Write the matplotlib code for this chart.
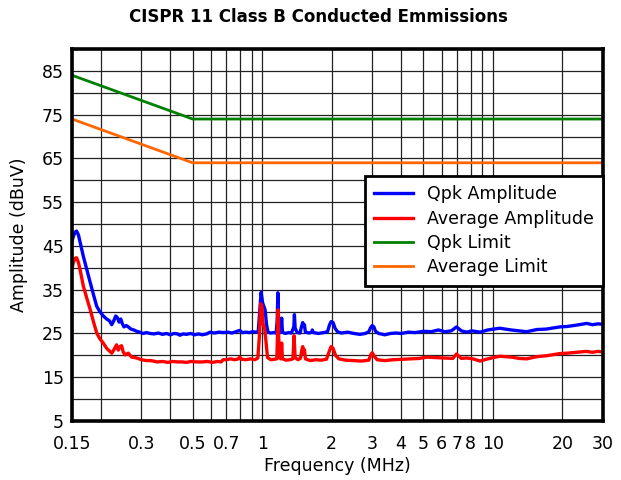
import numpy as np
import matplotlib
matplotlib.use("Agg")
import matplotlib.pyplot as plt

plt.rcParams['font.family'] = ['DejaVu Sans']

# quasi-peak scan (MHz, dBuV)
qpk_freq = [0.150, 0.152, 0.155, 0.157, 0.160, 0.164, 0.168, 0.174, 0.180, 0.186,
            0.192, 0.198, 0.205, 0.212, 0.218, 0.223, 0.228, 0.232, 0.236, 0.240,
            0.244, 0.248, 0.252, 0.258, 0.263, 0.270, 0.278, 0.286, 0.295, 0.305,
            0.315, 0.327, 0.340, 0.355, 0.370, 0.385, 0.400, 0.415, 0.430, 0.440,
            0.455, 0.470, 0.490, 0.510, 0.530, 0.550, 0.575, 0.595, 0.620, 0.650,
            0.680, 0.710, 0.740, 0.770, 0.800, 0.820, 0.850, 0.880, 0.910, 0.940,
            0.962, 0.975, 0.990, 1.005, 1.030, 1.045, 1.060, 1.090, 1.120, 1.150,
            1.162, 1.170, 1.178, 1.190, 1.205, 1.215, 1.225, 1.260, 1.300, 1.340,
            1.372, 1.380, 1.390, 1.420, 1.460, 1.480, 1.500, 1.515, 1.525, 1.540,
            1.600, 1.640, 1.650, 1.670, 1.750, 1.850, 1.920, 1.960, 1.990, 2.030,
            2.070, 2.120, 2.200, 2.350, 2.500, 2.650, 2.800, 2.900, 2.950, 3.000,
            3.050, 3.100, 3.200, 3.400, 3.600, 3.800, 4.000, 4.300, 4.600, 5.000,
            5.400, 5.800, 6.200, 6.600, 6.960, 7.300, 7.700, 8.100, 8.800, 9.500,
            10.7, 12.0, 13.0, 14.0, 15.5, 17.0, 19.5, 21.0, 23.0, 25.5,
            27.0, 28.5, 30.0]
qpk_amp = [46.0, 47.2, 48.2, 48.4, 47.5, 45.0, 42.6, 39.5, 36.6, 33.8,
           31.2, 30.0, 29.0, 28.3, 27.9, 27.0, 28.0, 29.0, 28.6, 27.6,
           28.3, 27.2, 26.5, 26.8, 26.5, 26.0, 25.8, 25.5, 25.3, 25.0,
           25.2, 25.0, 24.9, 25.1, 24.8, 25.0, 24.7, 25.0, 24.9, 24.6,
           24.9, 24.8, 25.0, 24.7, 24.9, 24.7, 24.9, 25.3, 25.1, 25.3,
           25.2, 25.3, 25.1, 25.4, 25.7, 25.2, 25.3, 25.2, 25.4, 25.3,
           25.4, 29.5, 34.4, 32.0, 30.4, 27.0, 25.3, 25.1, 25.2, 25.1,
           28.0, 34.3, 28.0, 25.4, 25.2, 28.5, 25.3, 25.0, 25.2, 25.1,
           26.5, 29.3, 26.2, 25.2, 25.1, 26.5, 27.5, 26.6, 27.0, 25.3,
           25.1, 25.3, 25.8, 25.2, 25.0, 25.2, 25.4, 27.0, 27.7, 27.5,
           26.2, 25.4, 25.1, 25.3, 25.0, 24.8, 25.0, 25.4, 26.3, 26.8,
           26.5, 25.5, 25.0, 24.7, 25.0, 25.1, 25.0, 25.3, 25.2, 25.5,
           25.4, 25.8, 25.4, 25.6, 26.5, 25.6, 25.3, 25.6, 25.3, 25.8,
           26.2, 25.8, 25.6, 25.4, 25.9, 26.0, 26.5, 26.6, 26.9, 27.3,
           27.0, 27.2, 27.1]

# average detector scan (MHz, dBuV)
avg_freq = [0.150, 0.152, 0.155, 0.157, 0.160, 0.164, 0.168, 0.174, 0.180, 0.186,
            0.192, 0.198, 0.205, 0.212, 0.218, 0.223, 0.228, 0.234, 0.238, 0.242,
            0.246, 0.250, 0.255, 0.263, 0.272, 0.286, 0.300, 0.315, 0.330, 0.350,
            0.370, 0.390, 0.410, 0.430, 0.450, 0.470, 0.490, 0.520, 0.550, 0.580,
            0.610, 0.640, 0.665, 0.677, 0.700, 0.730, 0.760, 0.790, 0.800, 0.815,
            0.850, 0.890, 0.930, 0.958, 0.972, 0.985, 0.998, 1.010, 1.025, 1.040,
            1.055, 1.090, 1.130, 1.158, 1.165, 1.172, 1.180, 1.192, 1.205, 1.215,
            1.225, 1.270, 1.320, 1.360, 1.375, 1.390, 1.430, 1.465, 1.490, 1.500,
            1.512, 1.525, 1.540, 1.620, 1.700, 1.800, 1.900, 1.950, 1.990, 2.030,
            2.080, 2.150, 2.300, 2.500, 2.700, 2.900, 2.960, 3.000, 3.060, 3.150,
            3.400, 3.700, 4.000, 4.400, 4.800, 5.200, 5.600, 6.200, 6.700, 6.960,
            7.300, 7.700, 8.200, 8.800, 9.500, 10.7, 12.0, 13.0, 14.0, 15.5,
            17.0, 19.5, 21.0, 23.0, 25.5, 27.0, 28.5, 30.0]
avg_amp = [39.8, 41.2, 42.2, 42.3, 41.2, 38.6, 35.8, 33.0, 30.4, 27.6,
           25.1, 23.8, 22.8, 21.6, 21.0, 20.5, 21.3, 22.4, 21.2, 22.0,
           22.2, 20.8, 20.1, 20.5, 19.6, 19.4, 19.0, 18.8, 18.8, 18.5,
           18.6, 18.4, 18.6, 18.5, 18.5, 18.4, 18.6, 18.5, 18.5, 18.6,
           18.4, 18.6, 18.5, 19.0, 19.0, 19.2, 19.0, 19.2, 19.6, 19.1,
           19.0, 19.2, 19.0, 19.4, 24.0, 31.8, 31.0, 27.0, 26.2, 23.0,
           19.5, 19.0, 19.1, 19.2, 24.0, 30.4, 24.0, 19.4, 19.2, 22.8,
           19.2, 18.9, 19.0, 19.2, 24.5, 19.5, 19.0, 19.3, 21.5, 22.0,
           20.5, 21.3, 19.2, 18.8, 19.0, 18.9, 19.1, 20.8, 22.0, 21.6,
           20.0, 19.2, 18.9, 18.8, 18.7, 18.9, 20.2, 20.6, 19.8, 19.0,
           18.8, 19.0, 19.1, 19.2, 19.3, 19.6, 19.5, 19.4, 19.3, 20.3,
           19.3, 19.4, 19.2, 18.7, 19.2, 19.8, 19.6, 19.3, 19.2, 19.7,
           19.9, 20.4, 20.5, 20.7, 20.9, 20.7, 20.9, 20.8]

# limit lines
limit_freq = [0.15, 0.5, 30.0]
qpk_limit = [84, 74, 74]
avg_limit = [74, 64, 64]

grid_freqs = [0.15, 0.2, 0.3, 0.4, 0.5, 0.6, 0.7, 0.8, 0.9, 1, 2, 3, 4, 5, 6, 7, 8, 9, 10, 20, 30]
grid_labels = ['0.15', '', '0.3', '', '0.5', '', '0.7', '', '', '1', '2', '3', '4', '5',
               '6', '7', '8', '', '10', '20', '30']
amp_ticks = [5, 15, 25, 35, 45, 55, 65, 75, 85]


fig = plt.figure(figsize=(6.21, 4.8), dpi=100)
ax = fig.add_axes([72 / 621, 1 - 421 / 480, 531 / 621, 372 / 480])

ax.plot(qpk_freq, qpk_amp, color='#0000ff', lw=2.4, label='Qpk Amplitude', zorder=4)
ax.plot(avg_freq, avg_amp, color='#ff0000', lw=2.4, label='Average Amplitude', zorder=4)
ax.plot(limit_freq, qpk_limit, color='#008000', lw=2.0, label='Qpk Limit', zorder=3)
ax.plot(limit_freq, avg_limit, color='#ff6600', lw=2.0, label='Average Limit', zorder=3)

ax.set_xscale('log')
ax.set_xlim(0.15, 30)
ax.set_ylim(5, 90)
ax.set_xticks(grid_freqs)
ax.set_xticklabels(grid_labels)
ax.xaxis.set_minor_locator(matplotlib.ticker.NullLocator())
ax.set_yticks(amp_ticks)
ax.set_yticks(np.arange(5, 91, 5), minor=True)
ax.tick_params(axis='both', which='both', length=0, labelsize=12.5)
ax.tick_params(axis='x', pad=10)
ax.tick_params(axis='y', pad=6)
ax.grid(True, which='both', color='#222222', lw=0.9)

for sp in ax.spines.values():
    sp.set_linewidth(2.6)
    sp.set_zorder(5)

ax.set_xlabel('Frequency (MHz)', fontsize=12.5, labelpad=3)
ax.set_ylabel('Amplitude (dBuV)', fontsize=12.5, labelpad=10)

leg = ax.legend(loc='upper right', bbox_to_anchor=(1.0, 0.659), borderaxespad=0,
                fontsize=12.5, fancybox=False, framealpha=1, edgecolor='black',
                handlelength=2.2, labelspacing=0.36, borderpad=0.55, handletextpad=0.8)
leg.get_frame().set_linewidth(2.0)
leg.set_zorder(6)

fig.text(318 / 621, 1 - 17 / 480, 'CISPR 11 Class B Conducted Emmissions',
         ha='center', va='center', fontsize=12, fontweight='bold')

fig.savefig('out.png', dpi=100)
